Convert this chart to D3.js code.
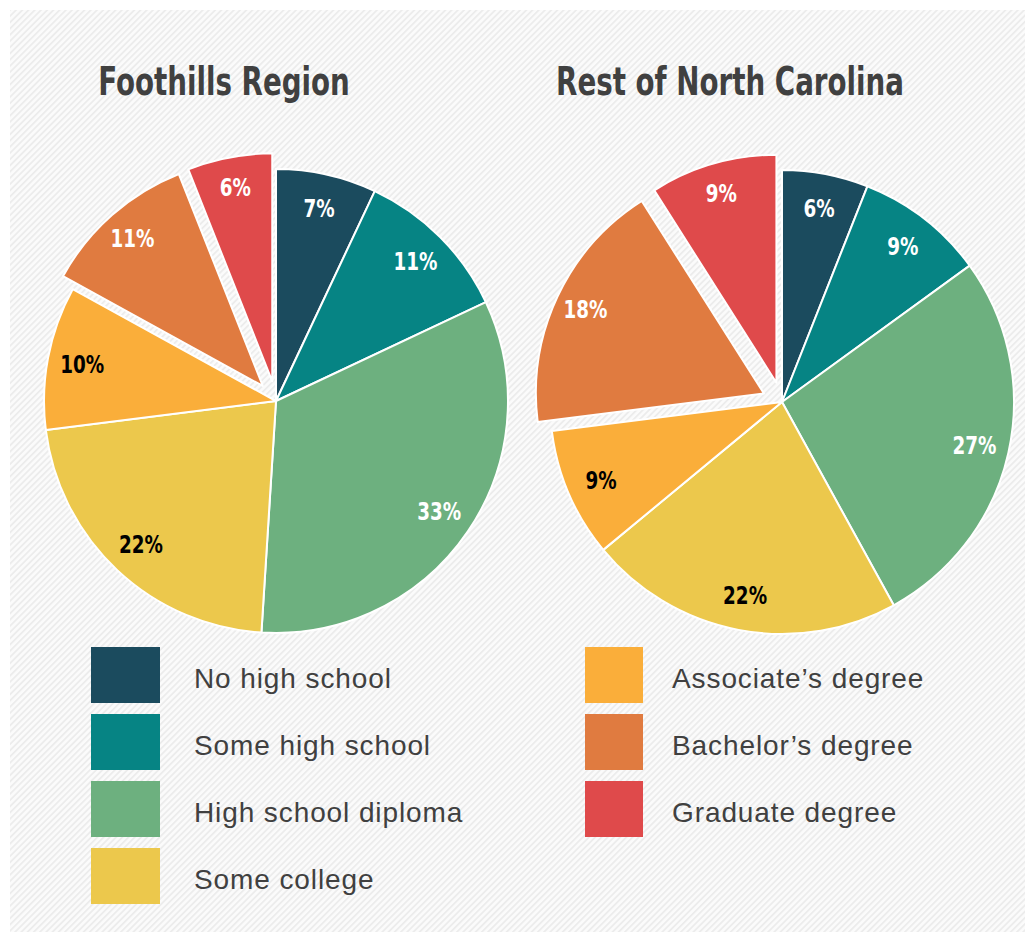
<!DOCTYPE html>
<html>
<head>
<meta charset="utf-8">
<script src="https://cdn.jsdelivr.net/npm/d3@7"></script>
<style>
  html, body { margin: 0; padding: 0; background: #ffffff; }
  svg { display: block; }
</style>
</head>
<body>
<svg id="chart" width="1025" height="932"></svg>
<script>
// education levels, in pie order (clockwise from 12 o'clock)
const categories = [
  "No high school",
  "Some high school",
  "High school diploma",
  "Some college",
  "Associate’s degree",
  "Bachelor’s degree",
  "Graduate degree"
];
const foothills = [7, 11, 33, 22, 10, 11, 6];
const restNC = [6, 9, 27, 22, 9, 18, 9];
const titles = ["Foothills Region", "Rest of North Carolina"];
const sliceColors = ["#1b4b5e", "#068484", "#6db07f", "#ecc84c", "#faae3a", "#e07b40", "#df4a4b"];
const explodedCats = ["Bachelor’s degree", "Graduate degree"];
const blackLabelCats = ["Some college", "Associate’s degree"];

const svg = d3.select('#chart');
const width = +svg.attr('width');
const height = +svg.attr('height');

// hatched backdrop
const defs = svg.append('defs');
const pat = defs.append('pattern')
  .attr('id', 'hatch')
  .attr('width', 4.4).attr('height', 4.4)
  .attr('patternUnits', 'userSpaceOnUse')
  .attr('patternTransform', 'rotate(45)');
pat.append('rect').attr('width', 4.4).attr('height', 4.4).attr('fill', '#fbfbfb');
pat.append('rect').attr('width', 1.8).attr('height', 4.4).attr('fill', '#ececec');

svg.append('rect')
  .attr('x', 10).attr('y', 10)
  .attr('width', width - 10).attr('height', height - 10)
  .attr('fill', 'url(#hatch)');

const color = d3.scaleOrdinal().domain(categories).range(sliceColors);

const condensed = '"Liberation Sans Narrow", "DejaVu Sans Condensed", sans-serif';
const radius = 232;
const explode = 20;
const pies = [
  {title: titles[0], values: foothills, cx: 276, cy: 401, tx: 224},
  {title: titles[1], values: restNC, cx: 782, cy: 402, tx: 730}
];

const pie = d3.pie().sort(null).value(d => d.value);

pies.forEach(p => {
  const data = categories.map((c, i) => ({cat: c, value: p.values[i]}));
  const arcs = pie(data);
  const g = svg.append('g').attr('transform', `translate(${p.cx},${p.cy})`);

  const offset = d => {
    if (!explodedCats.includes(d.data.cat)) return [0, 0];
    const a = (d.startAngle + d.endAngle) / 2;
    return [Math.sin(a) * explode, -Math.cos(a) * explode];
  };
  const arcFor = d => d3.arc()
    .innerRadius(0)
    .outerRadius(explodedCats.includes(d.data.cat) ? radius - 4 : radius);
  const labelArc = d3.arc().innerRadius(radius * 0.85).outerRadius(radius * 0.85);

  g.selectAll('path.slice')
    .data(arcs).join('path')
    .attr('class', 'slice')
    .attr('transform', d => `translate(${offset(d)})`)
    .attr('d', d => arcFor(d)(d))
    .attr('fill', d => color(d.data.cat))
    .attr('stroke', '#ffffff')
    .attr('stroke-width', 2)
    .attr('stroke-linejoin', 'round');

  g.selectAll('text.pct')
    .data(arcs).join('text')
    .attr('class', 'pct')
    .attr('transform', d => {
      const [x, y] = labelArc.centroid(d);
      const [ox, oy] = offset(d);
      return `translate(${x + ox},${y + oy}) scale(0.85,1)`;
    })
    .attr('text-anchor', 'middle')
    .attr('dy', '0.36em')
    .attr('font-family', condensed)
    .attr('font-weight', 'bold')
    .attr('font-size', 24)
    .attr('fill', d => blackLabelCats.includes(d.data.cat) ? '#000000' : '#ffffff')
    .text(d => d.data.value + '%');

  // condensed bold title, squeezed horizontally
  svg.append('text')
    .attr('transform', `translate(${p.tx},95) scale(0.79,1)`)
    .attr('text-anchor', 'middle')
    .attr('font-family', condensed)
    .attr('font-weight', 'bold')
    .attr('font-size', 39)
    .attr('fill', '#404040')
    .text(p.title);
});

// legend in two columns
const legendCols = [
  {items: categories.slice(0, 4), x: 91, w: 69, tx: 194},
  {items: categories.slice(4), x: 585, w: 58, tx: 672}
];
legendCols.forEach(col => {
  const lg = svg.append('g').selectAll('g')
    .data(col.items).join('g')
    .attr('transform', (d, i) => `translate(0,${647 + i * 67})`);
  lg.append('rect')
    .attr('x', col.x).attr('y', 0)
    .attr('width', col.w).attr('height', 56)
    .attr('fill', d => color(d));
  lg.append('text')
    .attr('x', col.tx).attr('y', 41)
    .attr('font-family', '"Liberation Sans", Arial, sans-serif')
    .attr('font-size', 28)
    .attr('letter-spacing', 0.9)
    .attr('fill', '#404040')
    .text(d => d);
});
</script>
</body>
</html>
